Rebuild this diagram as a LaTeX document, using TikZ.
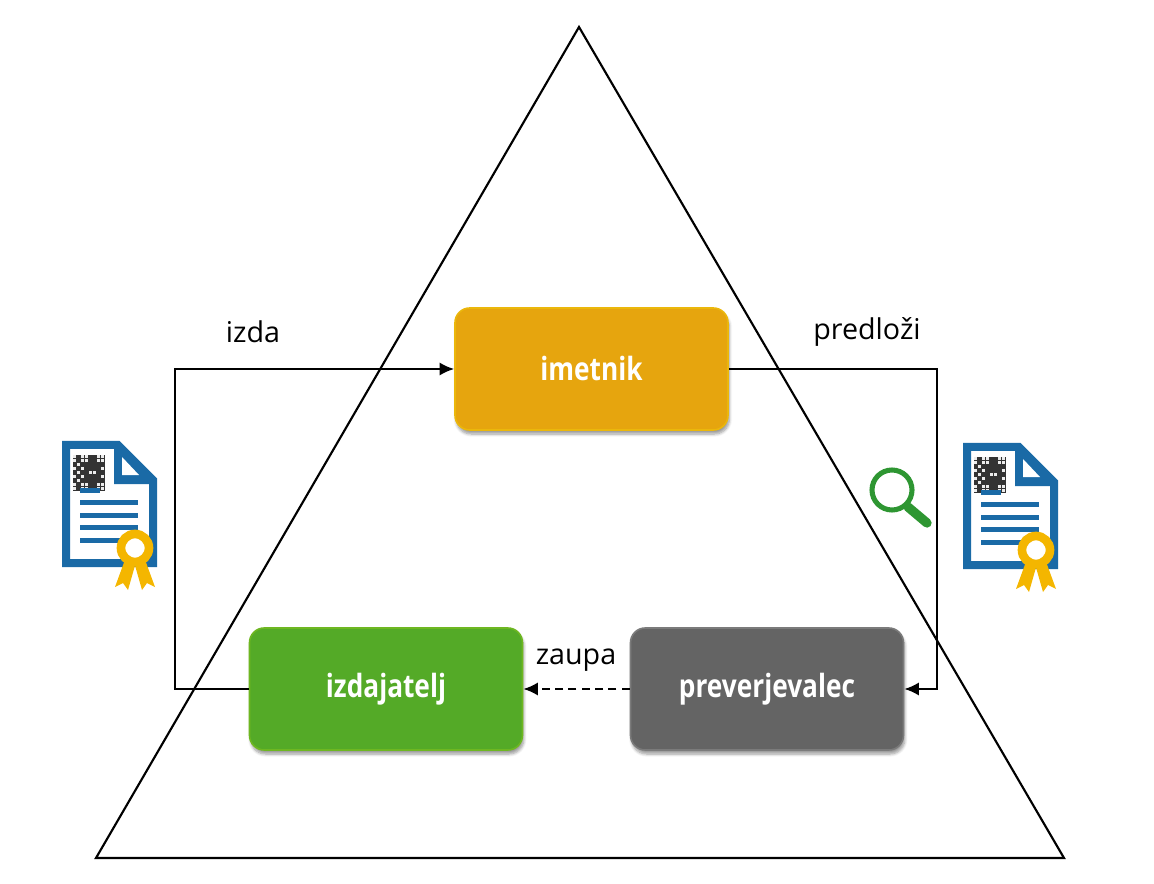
\documentclass[tikz,border=0pt]{standalone}
\usepackage{fontspec}
\setmainfont{Open Sans}
\newfontfamily\boxfont{Open Sans}[FakeStretch=0.82]
\usetikzlibrary{arrows.meta,shadows.blur}
\definecolor{gold}{HTML}{E6A50E}
\definecolor{grn}{HTML}{54AA27}
\definecolor{gry}{HTML}{646464}
\definecolor{docblue}{HTML}{1A6AA6}
\definecolor{badge}{HTML}{F4B600}
\definecolor{lens}{HTML}{2E9632}
\tikzset{
  role/.style={rounded corners=11pt, minimum width=273*0.75pt, minimum height=122*0.75pt,
    inner sep=0pt, text=white, font=\boxfont\bfseries\fontsize{24}{28}\selectfont,
    blur shadow={shadow xshift=1pt, shadow yshift=-3pt, shadow blur steps=6, shadow opacity=40}},
  lbl/.style={font=\fontsize{21.5}{26}\selectfont, inner sep=0pt},
  conn/.style={line width=1.7pt, -{Latex[length=11pt,width=10pt]}},
  cert/.pic={
    % fold corner
    \fill[docblue] (52,4) -- (91,43) -- (52,43) -- cycle;
    \fill[white] (60,16) -- (60,34) -- (77,34) -- cycle;
    \draw[docblue, line width=6pt, miter limit=10] (4,4) -- (56,4) -- (91,39) -- (91,122) -- (4,122) -- cycle;
    % QR code
    \fill[black!80] (11,14) rectangle (43,50);
    \foreach \i in {0,...,7}{
      \foreach \j in {0,...,8}{
        \pgfmathtruncatemacro\r{mod(\i*\i*3+\j*\j*5+\i*\j*7+\i+2*\j,7)}
        \ifnum\r<3 \fill[white!85!gray] (11+\i*4,14+\j*4) rectangle ++(3,3);\fi
      }
    }
    % text lines
    \foreach \yy in {61,74,86,99}{\fill[docblue] (18,\yy-2.5) rectangle (76,\yy+2.5);}
    \fill[docblue] (18,47) rectangle (38,52);
    % ribbons
    \fill[badge] (64,116) -- (74,121) -- (66,149) -- (61,142) -- (53,146) -- cycle;
    \fill[badge] (82,116) -- (72,121) -- (80,149) -- (85,142) -- (93,146) -- cycle;
    \draw[badge, fill=white, line width=6.5pt] (73,107) circle[radius=14];
  }
}
\begin{document}
\begin{tikzpicture}[x=0.75pt,y=-0.75pt]
\useasboundingbox (0,0) rectangle (1154,884);
% triangle
\draw[line width=1.6pt, line join=miter] (579,27) -- (1064,858) -- (96,858) -- cycle;
% nodes
\node[role, fill=gold, draw=gold!80!yellow, line width=1.2pt] (imet) at (591.5,369) {imetnik};
\node[role, fill=grn, draw=grn!85!yellow, line width=1.2pt] (izd) at (386,689) {izdajatelj};
\node[role, fill=gry, draw=gry!85!white, line width=1.2pt] (prev) at (767,689) {preverjevalec};
% connectors
\draw[conn] (izd.west) -- (175,689) -- (175,369) -- (imet.west);
\draw[conn] (imet.east) -- (937,369) -- (937,689) -- (prev.east);
\draw[conn, dashed, dash pattern=on 6pt off 4pt] (prev.west) -- (izd.east);
% labels
\node[lbl] (lizda) at (253,332) {izda};
\node[lbl] (lpred) at (867,332) {predloži};
\node[lbl] (lzaup) at (576,660) {zaupa};
% icons
\pic (c1) at (62,441) {cert};
\pic (c2) at (963,443) {cert};
% magnifier
\draw[lens, line width=3.8pt] (892,490) circle[radius=20];
\draw[lens, line width=7pt, line cap=round] (908,507) -- (927,523);
\end{tikzpicture}
\end{document}
